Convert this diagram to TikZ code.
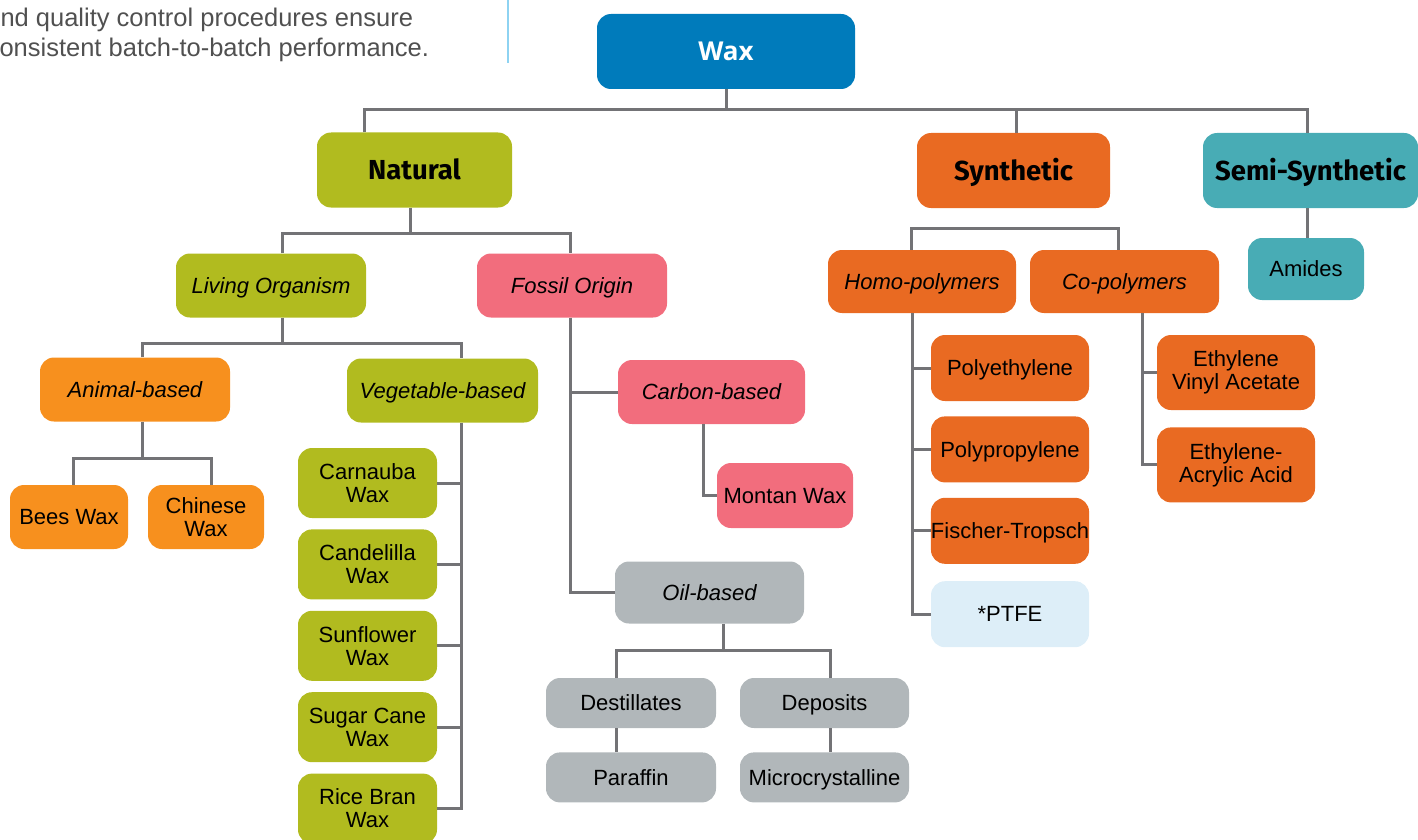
\documentclass[tikz,border=0pt]{standalone}
\usepackage{fontspec}
\setmainfont{Liberation Sans}
\newfontfamily\headfont{Fira Sans}
\newfontfamily\waxfont{Open Sans}
\usepackage{tikz}
\usetikzlibrary{positioning}

\definecolor{waxblue}{HTML}{007BBB}
\definecolor{natgreen}{HTML}{B1BB1F}
\definecolor{animorange}{HTML}{F7901E}
\definecolor{fosspink}{HTML}{F26D7D}
\definecolor{synorange}{HTML}{E96A22}
\definecolor{semiteal}{HTML}{48ACB5}
\definecolor{oilgray}{HTML}{B1B7BA}
\definecolor{ptfeblue}{HTML}{DDEEF8}
\definecolor{linkgray}{HTML}{737376}
\definecolor{textgray}{HTML}{505050}
\definecolor{rulecyan}{HTML}{8ED3F2}

\begin{document}
\begin{tikzpicture}[
    x=1pt, y=-1pt,
    font=\fontsize{22}{23}\selectfont,
    node distance=11pt,
    box/.style={rounded corners=14pt, align=center, inner sep=0pt, text=black, text height=16pt, text depth=0.5pt},
    pair/.style={text height=, text depth=},
    head/.style={box, font=\headfont\bfseries\fontsize{27.5}{30}\selectfont, minimum height=75pt, text height=20pt, text depth=1pt},
    group/.style={box, font=\itshape\fontsize{22}{23}\selectfont, minimum width=190pt, minimum height=64pt},
    leaf/.style={box, minimum width=139pt, minimum height=70pt},
    link/.style={draw=linkgray, line width=3pt}
]
\clip (0,0) rectangle (1418,840);

\node[anchor=base west, text=textgray, font=\fontsize{25.5}{30}\selectfont] (intro1) at (-3,27) {nd quality control procedures ensure};
\node[anchor=base west, text=textgray, font=\fontsize{25.5}{30}\selectfont] (intro2) at (-4,57) {onsistent batch-to-batch performance.};
\draw[rulecyan, line width=1.5pt] (508,0) -- (508,63);

\node[box, fill=waxblue, text=white, font=\waxfont\bfseries\fontsize{26}{30}\selectfont, minimum width=258pt, minimum height=75pt, text height=19pt, text depth=0.5pt] (wax) at (726,51.5) {Wax};

\node[head, fill=natgreen, minimum width=195pt] (natural) at (414.5,170) {Natural};
\node[head, fill=synorange, minimum width=193pt] (synthetic) at (1013.5,170.5) {Synthetic};
\node[head, fill=semiteal, minimum width=215pt] (semi) at (1310.5,170.5) {Semi-Synthetic};

\node[group, fill=natgreen] (living) at (271,285.5) {Living Organism};
\node[group, fill=fosspink] (fossil) at (572,285.5) {Fossil Origin};
\node[group, fill=animorange] (animal) at (135,389.5) {Animal-based};
\node[group, fill=natgreen, minimum width=191pt] (vegetable) at (442.5,390.5) {Vegetable-based};

\node[leaf, fill=animorange, minimum width=118pt, minimum height=64pt] (bees) at (69,517) {Bees Wax};
\node[leaf, pair, fill=animorange, minimum width=116pt, minimum height=64pt] (chinese) at (206,517) {Chinese\\Wax};

\node[leaf, pair, fill=natgreen] (carnauba) at (367.5,483) {Carnauba\\Wax};
\node[leaf, pair, fill=natgreen, below=of carnauba] (candelilla) {Candelilla\\Wax};
\node[leaf, pair, fill=natgreen, below=of candelilla] (sunflower) {Sunflower\\Wax};
\node[leaf, pair, fill=natgreen, below=of sunflower] (sugarcane) {Sugar Cane\\Wax};
\node[leaf, pair, fill=natgreen, below=of sugarcane] (ricebran) {Rice Bran\\Wax};

\node[group, fill=fosspink, minimum width=187pt] (carbon) at (711.5,392) {Carbon-based};
\node[leaf, fill=fosspink, minimum width=136pt, minimum height=65pt] (montan) at (785,495.5) {Montan Wax};
\node[group, fill=oilgray, minimum width=189pt, minimum height=62pt] (oil) at (709.5,592.5) {Oil-based};
\node[leaf, fill=oilgray, minimum width=170pt, minimum height=50pt] (destillates) at (631,703) {Destillates};
\node[leaf, fill=oilgray, minimum width=169pt, minimum height=50pt] (deposits) at (824.5,703) {Deposits};
\node[leaf, fill=oilgray, minimum width=170pt, minimum height=50pt, below=24pt of destillates] (paraffin) {Paraffin};
\node[leaf, fill=oilgray, minimum width=169pt, minimum height=50pt, below=24pt of deposits] (micro) {Microcrystalline};

\node[group, fill=synorange, minimum width=188pt, minimum height=63pt] (homo) at (922,281.5) {Homo-polymers};
\node[group, fill=synorange, minimum width=189pt, minimum height=63pt] (co) at (1124.5,281.5) {Co-polymers};
\node[leaf, fill=synorange, minimum width=158pt, minimum height=66pt] (polyeth) at (1010,368) {Polyethylene};
\node[leaf, fill=synorange, minimum width=158pt, minimum height=66pt, below=15pt of polyeth] (polyprop) {Polypropylene};
\node[leaf, fill=synorange, minimum width=158pt, minimum height=66pt, below=15pt of polyprop] (fischer) {Fischer-Tropsch};
\node[leaf, fill=ptfeblue, minimum width=158pt, minimum height=66pt, below=17pt of fischer] (ptfe) {*PTFE};
\node[leaf, pair, fill=synorange, minimum width=158pt, minimum height=75pt] (eva) at (1236,372.5) {Ethylene\\Vinyl Acetate};
\node[leaf, pair, fill=synorange, minimum width=158pt, minimum height=75pt, below=17pt of eva] (eaa) {Ethylene-\\Acrylic Acid};

\node[leaf, fill=semiteal, minimum width=116pt, minimum height=62pt] (amides) at (1306,269) {Amides};

\coordinate (topbar) at (0,110);
\draw[link] (wax.south) -- (wax.south |- topbar);
\draw[link] ([xshift=-50pt]natural.north) |- ([xshift=-3pt]semi.north |- topbar) -- ([xshift=-3pt]semi.north);
\draw[link] ([xshift=3pt]synthetic.north) -- ([xshift=3pt]synthetic.north |- topbar);

\draw[link] ([xshift=-4pt]natural.south) -- ++(0,25);
\draw[link] ([xshift=11pt]living.north) |- ([xshift=-2pt]fossil.north |- 0,233) -- ([xshift=-2pt]fossil.north);
\draw[link] ([xshift=11pt]living.south) -- ++(0,25);
\draw[link] ([xshift=7pt]animal.north) |- ([xshift=19pt]vegetable.north |- 0,343) -- ([xshift=19pt]vegetable.north);
\draw[link] ([xshift=7pt]animal.south) -- ++(0,37);
\draw[link] ([xshift=4pt]bees.north) |- ([xshift=5pt]chinese.north |- 0,458) -- ([xshift=5pt]chinese.north);

\coordinate (vegline) at ([xshift=19pt]vegetable.south);
\draw[link] (vegline) |- (ricebran.east);
\foreach \n in {carnauba, candelilla, sunflower, sugarcane}
  \draw[link] (\n.east) -- (\n.east -| vegline);

\draw[link] ([xshift=-2pt]fossil.south) |- (oil.west);
\draw[link] (carbon.west) -- (carbon.west -| 570,0);
\draw[link] ([xshift=-8pt]carbon.south) |- (montan.west);
\draw[link] ([xshift=13.5pt]oil.south) -- ++(0,26);
\draw[link] ([xshift=-15pt]destillates.north) |- ([xshift=5.5pt]deposits.north |- 0,650) -- ([xshift=5.5pt]deposits.north);
\draw[link] ([xshift=-15pt]destillates.south) -- ([xshift=-15pt]paraffin.north);
\draw[link] ([xshift=5.5pt]deposits.south) -- ([xshift=5.5pt]micro.north);

\draw[link] ([xshift=-11pt]homo.north) |- ([xshift=-6.5pt]co.north |- 0,228) -- ([xshift=-6.5pt]co.north);
\coordinate (homoline) at ([xshift=-10pt]homo.south);
\draw[link] (homoline) |- (ptfe.west);
\foreach \n in {polyeth, polyprop, fischer}
  \draw[link] (\n.west) -- (\n.west -| homoline);
\draw[link] ([xshift=17.5pt]co.south) |- (eaa.west);
\draw[link] (eva.west) -- (eva.west -| 1142,0);

\draw[link] ([xshift=-3.5pt]semi.south) -- ([xshift=-3.5pt]semi.south |- amides.north);
\end{tikzpicture}
\end{document}
